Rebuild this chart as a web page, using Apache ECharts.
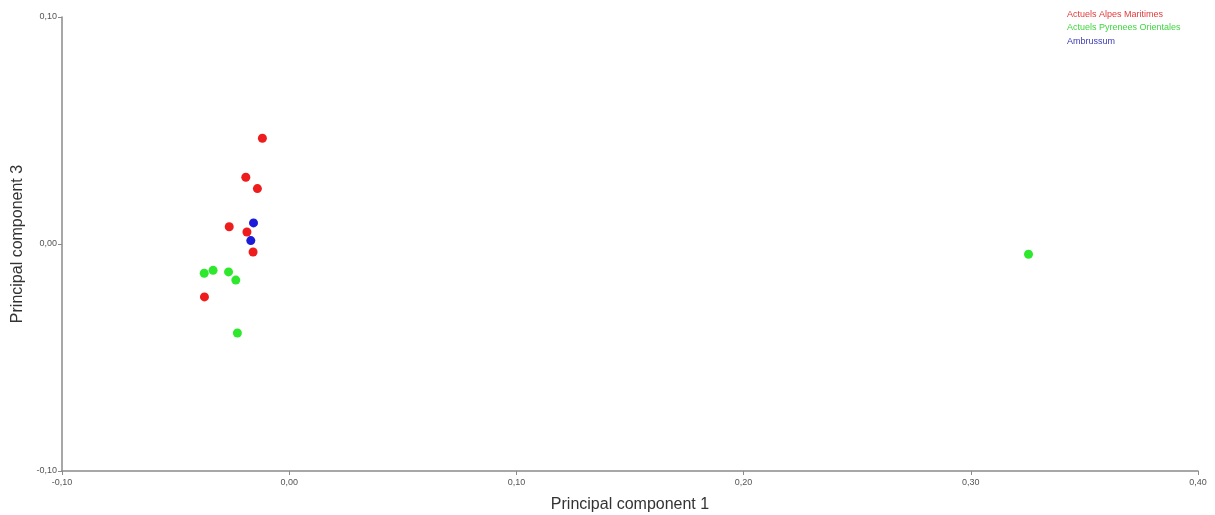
<!DOCTYPE html>
<html>
<head>
<meta charset="utf-8">
<script src="https://cdn.jsdelivr.net/npm/echarts@6/dist/echarts.min.js"></script>
<style>
  html, body { margin: 0; padding: 0; background: #fff; }
  #scatterChart { width: 1215px; height: 515px; }
</style>
</head>
<body>
<div id="scatterChart"></div>
<script>
  // 各组点的坐标 [PC1, PC3]
  var alpesMaritimes = [
    [-0.0118, 0.0466], [-0.0191, 0.0294], [-0.0140, 0.0244], [-0.0264, 0.0076],
    [-0.0186, 0.0053], [-0.0159, -0.0035], [-0.0373, -0.0233]
  ];
  var pyreneesOrientales = [
    [-0.0374, -0.0129], [-0.0335, -0.0116], [-0.0267, -0.0123], [-0.0235, -0.0159],
    [-0.0228, -0.0392], [0.3254, -0.0045]
  ];
  var ambrussum = [
    [-0.0157, 0.0093], [-0.0169, 0.0015]
  ];
  var seriesNames = ['Actuels Alpes Maritimes', 'Actuels Pyrenees Orientales', 'Ambrussum'];
  var seriesColors = ['#ee1c1c', '#2ee82e', '#1c1cd8'];
  var legendColors = ['#e23a3a', '#3ed83e', '#3a3ab8'];

  function fmt(v) {
    return v.toFixed(2).replace('.', ',');
  }

  var chart = echarts.init(document.getElementById('scatterChart'));
  var allData = [alpesMaritimes, pyreneesOrientales, ambrussum];

  var option = {
    animation: false,
    textStyle: { fontFamily: 'Liberation Sans, Arial, sans-serif' },
    grid: { left: 62, right: 17, top: 17, bottom: 44, containLabel: false, outerBoundsMode: 'none' },
    legend: {
      orient: 'vertical',
      left: 1062,
      top: 10,
      icon: 'none',
      itemWidth: 0,
      itemHeight: 9,
      itemGap: 4.5,
      padding: 0,
      selectedMode: false,
      data: seriesNames.map(function (n, i) {
        return { name: n, textStyle: { color: legendColors[i], fontSize: 9 } };
      })
    },
    xAxis: {
      type: 'value',
      min: -0.1,
      max: 0.4,
      interval: 0.1,
      name: 'Principal component 1',
      nameLocation: 'middle',
      nameGap: 26,
      nameTextStyle: { fontSize: 16, color: '#333' },
      axisLine: { show: true, onZero: false, lineStyle: { color: '#8a8a8a', width: 1.5 } },
      axisTick: { show: true, length: 4, lineStyle: { color: '#8a8a8a' } },
      axisLabel: { fontSize: 9, color: '#555', margin: 7, formatter: fmt },
      splitLine: { show: false }
    },
    yAxis: {
      type: 'value',
      min: -0.1,
      max: 0.1,
      interval: 0.1,
      name: 'Principal component 3',
      nameLocation: 'middle',
      nameGap: 34,
      nameTextStyle: { fontSize: 16, color: '#333' },
      axisLine: { show: true, onZero: false, lineStyle: { color: '#8a8a8a', width: 1.5 } },
      axisTick: { show: true, length: 4, lineStyle: { color: '#8a8a8a' } },
      axisLabel: { fontSize: 9, color: '#555', margin: 5, formatter: fmt },
      splitLine: { show: false }
    },
    series: allData.map(function (d, i) {
      return {
        name: seriesNames[i],
        type: 'scatter',
        symbolSize: 9,
        data: d,
        itemStyle: { color: seriesColors[i], opacity: 1 }
      };
    })
  };

  chart.setOption(option);
</script>
</body>
</html>
